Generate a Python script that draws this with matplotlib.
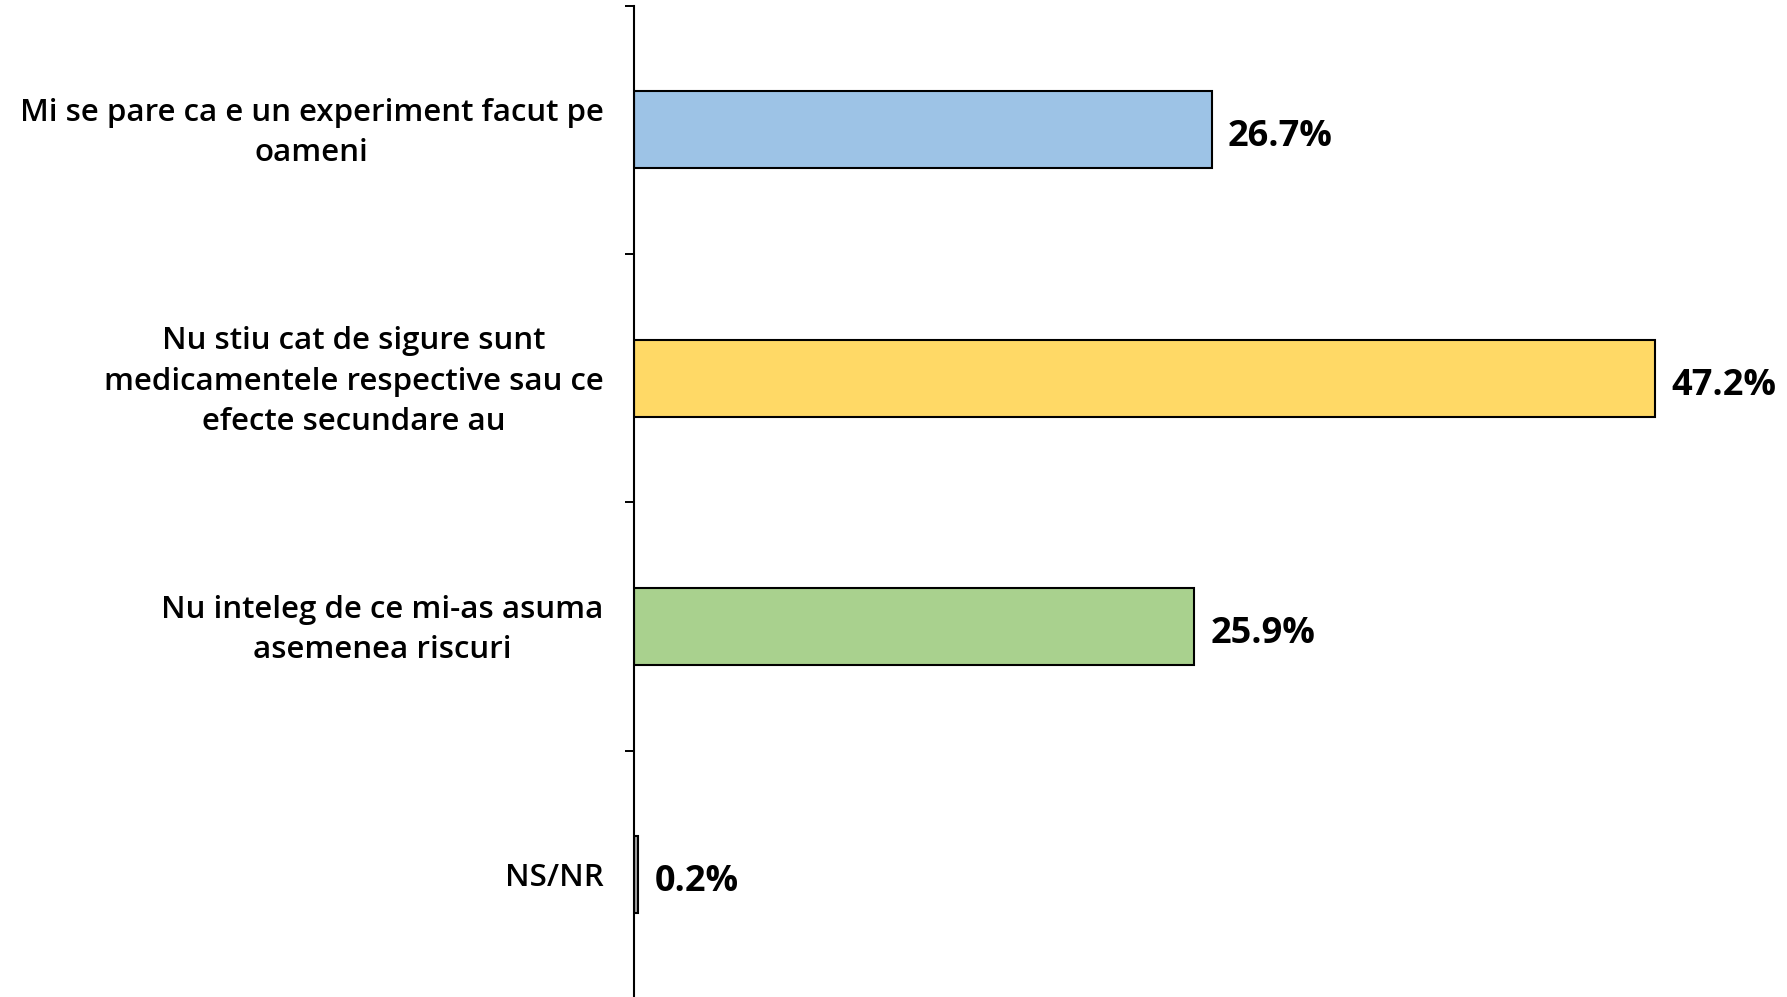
import matplotlib.pyplot as plt
import numpy as np

# categories, values, fill colours
categories = [
    "Mi se pare ca e un experiment facut pe\noameni",
    "Nu stiu cat de sigure sunt\nmedicamentele respective sau ce\nefecte secundare au",
    "Nu inteleg de ce mi-as asuma\nasemenea riscuri",
    "NS/NR",
]
values = [26.7, 47.2, 25.9, 0.2]
colors = ["#9DC3E6", "#FFD966", "#A9D18E", "#A5A5A5"]

plt.rcParams['font.family'] = ['Open Sans', 'DejaVu Sans']

fig = plt.figure(figsize=(17.87, 9.97), dpi=100)
ax = fig.add_axes([0.3548, -0.002, 0.6452, 0.9963])

y = np.arange(len(categories))
ax.barh(y, values, height=0.31, color=colors, edgecolor='black', linewidth=1.5)

for i in range(len(values)):
    ax.annotate(f"{values[i]}%", xy=(values[i], y[i]), xytext=(11.5, -5.5),
                textcoords='offset points', va='center', ha='left',
                fontsize=26, fontweight='bold')

# category names left of the axis
for i in range(len(categories)):
    ax.annotate(categories[i], xy=(0, y[i]), xycoords=ax.get_yaxis_transform(),
                xytext=(-22, -2.5), textcoords='offset points',
                ha='right', va='center', multialignment='center',
                fontsize=22.5, fontweight='semibold', linespacing=1.45)

ax.set_xlim(0, 53.3)
ax.set_ylim(len(categories) - 0.5, -0.5)

# ticks only between the bars
ax.set_yticks([])
ax.set_yticks(np.arange(-0.5, len(categories), 1), minor=True)
ax.tick_params(axis='y', which='minor', length=6.5, width=1.4, color='black')
ax.set_xticks([])

for s in ['top', 'right', 'bottom']:
    ax.spines[s].set_visible(False)
ax.spines['left'].set_linewidth(1.5)

fig.savefig('out.png', dpi=100)
